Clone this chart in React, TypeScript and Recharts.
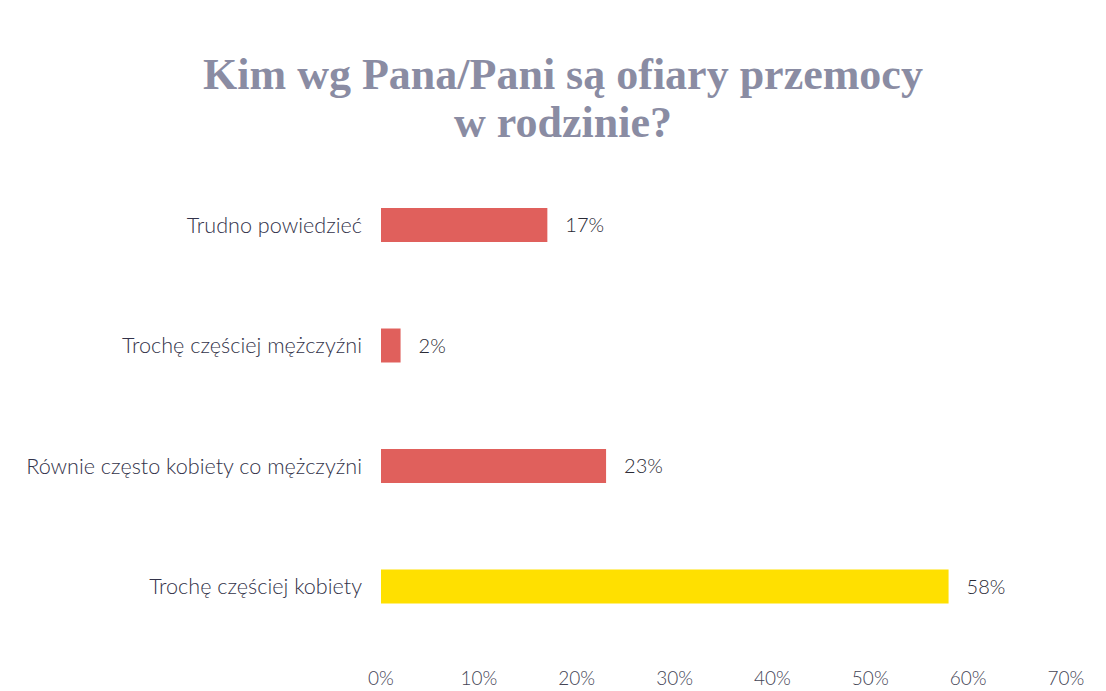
import { BarChart, Bar, XAxis, YAxis, Cell, LabelList } from "recharts"

const categories = [
  "Trudno powiedzieć",
  "Trochę częściej mężczyźni",
  "Równie często kobiety co mężczyźni",
  "Trochę częściej kobiety",
]
const values = [17, 2, 23, 58]
const barColors = ["#e0605c", "#e0605c", "#e0605c", "#ffe000"]
const xTicks = [0, 10, 20, 30, 40, 50, 60, 70]

const data = categories.map((name, i) => ({ name, value: values[i] }))

const labelFont = "Lato, 'Open Sans', sans-serif"

export default function App() {
  return (
    <div
      style={{
        position: "absolute",
        left: 0,
        top: 0,
        width: 1106,
        height: 691,
        background: "#ffffff",
        overflow: "hidden",
      }}
    >
      {/* Title */}
      <div
        style={{
          position: "absolute",
          left: 0,
          top: 51,
          width: 1126,
          textAlign: "center",
          fontFamily: "'Liberation Serif', 'DejaVu Serif', serif",
          fontWeight: "bold",
          fontSize: 44,
          lineHeight: "48px",
          color: "#8a8ca3",
        }}
      >
        Kim wg Pana/Pani są ofiary przemocy
        <br />w rodzinie?
      </div>

      <BarChart
        width={1106}
        height={691}
        data={data}
        layout="vertical"
        margin={{ top: 165, right: 40, bottom: 0, left: 0 }}
        barSize={34}
      >
        <XAxis
          type="number"
          domain={[0, 70]}
          ticks={xTicks}
          tickFormatter={(v) => `${v}%`}
          axisLine={false}
          tickLine={false}
          height={44}
          tickMargin={19}
          tick={{ fontSize: 19, fill: "#444455", fontFamily: labelFont, fontWeight: 300 }}
        />
        <YAxis
          type="category"
          dataKey="name"
          width={381}
          axisLine={false}
          tickLine={false}
          tickMargin={13}
          tick={{ fontSize: 21.6, fill: "#33334a", fontFamily: labelFont, fontWeight: 300 }}
        />
        <Bar dataKey="value" isAnimationActive={false}>
          {data.map((d, i) => (
            <Cell key={d.name} fill={barColors[i]} />
          ))}
          <LabelList
            dataKey="value"
            position="right"
            offset={18}
            formatter={(v: number) => `${v}%`}
            style={{ fontSize: 20, fill: "#2a2a35", fontFamily: labelFont, fontWeight: 300 }}
          />
        </Bar>
      </BarChart>
    </div>
  )
}
